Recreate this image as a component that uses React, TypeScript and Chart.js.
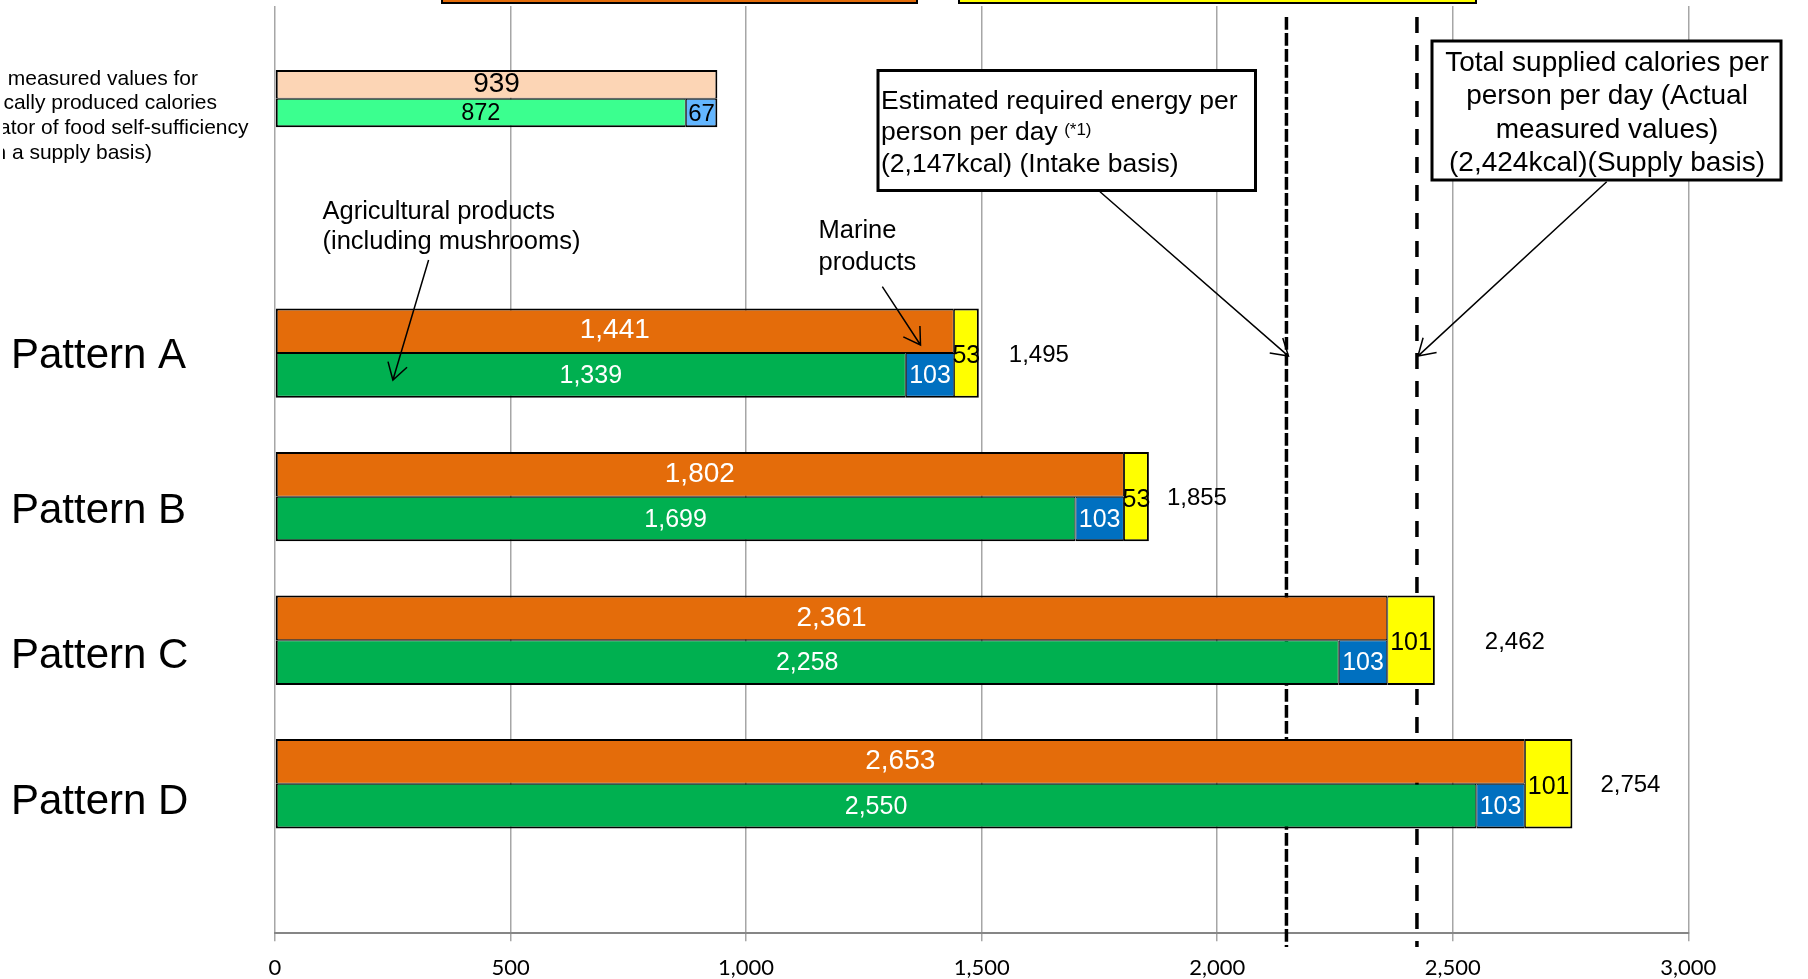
import React, { useEffect, useRef } from 'react';
import { Chart, registerables } from 'chart.js';

Chart.register(...registerables);

// pattern rows
const PATTERNS = ['Pattern A', 'Pattern B', 'Pattern C', 'Pattern D'];
const DOMESTIC = [1441, 1802, 2361, 2653]; // orange, upper half
const AGRICULTURAL = [1339, 1699, 2258, 2550]; // green, lower half
const MARINE = [103, 103, 103, 103]; // blue, lower half
const EXTRA = [53, 53, 101, 101]; // yellow, full height
const TOTALS = [1495, 1855, 2462, 2754];

// reference row (actual measured values)
const ACTUAL_LABEL = [
  'Actual measured values for',
  'domestically produced calories',
  '(indicator of food self-sufficiency',
  'on a supply basis)',
];
const ACTUAL_TOTAL = [939];
const ACTUAL_AGRI = [872];
const ACTUAL_MARINE = [67];

// dashed reference lines (kcal)
const REF_LINES = [2147, 2424];
const X_MAX = 3000;
const X_STEP = 500;

// layout: slot of the reference row on the row axis, and axis window
const ACTUAL_SLOT = -1.7725;
const Y_MIN = -2.418;
const Y_MAX = 4.042;
const PLOT_H = 927;
const LABEL_DY = [3.5, 14.5, 16.5, 19]; // row labels sit a little low in the original
const TOTAL_GAP = [30, 18, 50, 28];

const FONT = '"Liberation Sans", Arial, sans-serif';
const fmt = (v: number) => v.toLocaleString('en-US');

function arrow(ctx: CanvasRenderingContext2D, x1: number, y1: number, x2: number, y2: number) {
  const a = Math.atan2(y2 - y1, x2 - x1);
  const len = 19;
  const w = 0.55;
  ctx.beginPath();
  ctx.moveTo(x1, y1);
  ctx.lineTo(x2, y2);
  ctx.moveTo(x2 - len * Math.cos(a - w), y2 - len * Math.sin(a - w));
  ctx.lineTo(x2, y2);
  ctx.lineTo(x2 - len * Math.cos(a + w), y2 - len * Math.sin(a + w));
  ctx.stroke();
}

const decorations = {
  id: 'decorations',
  beforeDatasetsDraw(chart: any) {
    const { ctx } = chart;
    const x = chart.scales.x;
    ctx.save();
    ctx.strokeStyle = '#000';
    ctx.lineWidth = 3.5;
    REF_LINES.forEach((v, i) => {
      ctx.setLineDash(i === 0 ? [12.7, 3.3] : [16, 12]);
      const px = x.getPixelForValue(v);
      ctx.beginPath();
      ctx.moveTo(px, 17);
      ctx.lineTo(px, 947);
      ctx.stroke();
    });
    ctx.restore();
  },
  afterDatasetsDraw(chart: any) {
    const { ctx } = chart;
    ctx.save();
    ctx.textBaseline = 'middle';
    chart.data.datasets.forEach((ds: any, di: number) => {
      const st = ds.valueLabel;
      if (!st) return;
      const meta = chart.getDatasetMeta(di);
      meta.data.forEach((el: any, i: number) => {
        const { x, y, base } = el.getProps(['x', 'y', 'base'], true);
        ctx.font = `${st.size}px ${FONT}`;
        ctx.fillStyle = st.color;
        ctx.textAlign = 'center';
        ctx.fillText(fmt(ds.data[i].x), (x + base) / 2, y + (st.dy || 0));
        if (ds.showTotal) {
          ctx.font = `24px ${FONT}`;
          ctx.fillStyle = '#000';
          ctx.textAlign = 'left';
          ctx.fillText(fmt(TOTALS[i]), x + TOTAL_GAP[i], y + 2);
        }
      });
    });
    ctx.restore();
  },
  afterDraw(chart: any) {
    const { ctx } = chart;
    const xs = chart.scales.x;
    const ys = chart.scales.y;
    ctx.save();

    // boxes cut by the top edge
    ctx.lineWidth = 2;
    ctx.strokeStyle = '#000';
    ctx.fillStyle = '#E46C0A';
    ctx.fillRect(442, -6, 475, 9);
    ctx.strokeRect(442, -6, 475, 9);
    ctx.fillStyle = '#FFFF00';
    ctx.fillRect(959, -6, 517, 9);
    ctx.strokeRect(959, -6, 517, 9);

    // reference-row label, cut at the left edge
    ctx.save();
    ctx.beginPath();
    ctx.rect(3, 0, 300, 200);
    ctx.clip();
    ctx.fillStyle = '#000';
    ctx.font = `21px ${FONT}`;
    ctx.textAlign = 'right';
    ctx.textBaseline = 'alphabetic';
    const ends = [198, 217, 248.5, 152];
    const bases = [85, 109.3, 133.5, 159];
    ACTUAL_LABEL.forEach((t, i) => ctx.fillText(t, ends[i], bases[i]));
    ctx.restore();

    // callout texts
    ctx.fillStyle = '#000';
    ctx.textAlign = 'left';
    ctx.textBaseline = 'alphabetic';
    ctx.font = `25.5px ${FONT}`;
    ctx.fillText('Agricultural products', 322.5, 218.5);
    ctx.fillText('(including mushrooms)', 322.5, 249);
    ctx.fillText('Marine', 818.5, 238.3);
    ctx.fillText('products', 818.5, 269.5);

    ctx.strokeStyle = '#000';
    ctx.lineWidth = 1.5;
    arrow(ctx, 428.6, 260, 392.9, 380);
    arrow(ctx, 882.3, 286.7, 920.5, 345);

    const tipY = ys.getPixelForValue(0) + 3;
    arrow(ctx, 1100, 191.7, xs.getPixelForValue(REF_LINES[0]) + 2, tipY);
    arrow(ctx, 1606.7, 181.7, xs.getPixelForValue(REF_LINES[1]) + 1, tipY);

    // box 1
    ctx.fillStyle = '#fff';
    ctx.fillRect(878, 70.5, 377.5, 120);
    ctx.lineWidth = 3;
    ctx.strokeRect(878, 70.5, 377.5, 120);
    ctx.fillStyle = '#000';
    ctx.font = `26.5px ${FONT}`;
    ctx.fillText('Estimated required energy per', 881, 108.5);
    ctx.fillText('person per day ', 881, 140);
    const w2 = ctx.measureText('person per day ').width;
    ctx.fillText('(2,147kcal) (Intake basis)', 881, 172);
    ctx.font = `17px ${FONT}`;
    ctx.fillText('(*1)', 881 + w2 - 1, 134.6);

    // box 2
    ctx.fillStyle = '#fff';
    ctx.fillRect(1432, 41, 349, 139);
    ctx.strokeRect(1432, 41, 349, 139);
    ctx.fillStyle = '#000';
    ctx.font = `28px ${FONT}`;
    ctx.textAlign = 'center';
    ['Total supplied calories per', 'person per day (Actual', 'measured values)', '(2,424kcal)(Supply basis)'].forEach(
      (t, i) => ctx.fillText(t, 1607, 71 + i * 33.4)
    );

    ctx.restore();
  },
};

const UPPER_BORDER = { top: 2, bottom: 1, left: 2, right: 1 };
const LOWER_BORDER = { top: 1, bottom: 2, left: 2, right: 1 };

function ChartView() {
  const canvasRef = useRef<HTMLCanvasElement | null>(null);

  useEffect(() => {
    if (!canvasRef.current) return;
    const ctx = canvasRef.current.getContext('2d');
    if (!ctx) return;

    const rows = (vals: number[]) => vals.map((v, i) => ({ x: v, y: i }));
    const actual = (vals: number[]) => vals.map((v) => ({ x: v, y: ACTUAL_SLOT }));
    const common = { borderColor: '#000', borderSkipped: false, inflateAmount: 0 };

    const chart = new Chart(ctx, {
      type: 'bar',
      data: {
        datasets: [
          {
            ...common,
            label: 'actual total',
            data: actual(ACTUAL_TOTAL),
            stack: 'upper',
            barThickness: 28.7,
            backgroundColor: '#FCD5B5',
            borderWidth: { top: 2, bottom: 1, left: 2, right: 2 },
            valueLabel: { size: 28, color: '#000', dy: 0 },
          },
          {
            ...common,
            label: 'actual agricultural',
            data: actual(ACTUAL_AGRI),
            stack: 'lower',
            barThickness: 28.7,
            backgroundColor: '#3BFF8F',
            borderWidth: LOWER_BORDER,
            valueLabel: { size: 23.5, color: '#000', dy: 1 },
          },
          {
            ...common,
            label: 'actual marine',
            data: actual(ACTUAL_MARINE),
            stack: 'lower',
            barThickness: 28.7,
            backgroundColor: '#63B6FF',
            borderWidth: { top: 1, bottom: 2, left: 1, right: 2 },
            valueLabel: { size: 24, color: '#000', dy: 1 },
          },
          {
            ...common,
            label: 'domestic',
            data: rows(DOMESTIC),
            stack: 'upper',
            barThickness: 44.7,
            backgroundColor: '#E46C0A',
            borderWidth: UPPER_BORDER,
            valueLabel: { size: 28, color: '#fff', dy: 0 },
          },
          {
            ...common,
            label: 'agricultural',
            data: rows(AGRICULTURAL),
            stack: 'lower',
            barThickness: 44.7,
            backgroundColor: '#00B050',
            borderWidth: LOWER_BORDER,
            valueLabel: { size: 25, color: '#fff', dy: 1 },
          },
          {
            ...common,
            label: 'marine',
            data: rows(MARINE),
            stack: 'lower',
            barThickness: 44.7,
            backgroundColor: '#0070C0',
            borderWidth: { top: 1, bottom: 2, left: 1, right: 1 },
            valueLabel: { size: 25, color: '#fff', dy: 1 },
          },
          {
            ...common,
            label: 'extra',
            data: rows(EXTRA),
            stack: 'upper',
            grouped: false,
            barThickness: 89.4,
            backgroundColor: '#FFFF00',
            borderWidth: { top: 2, bottom: 2, left: 1, right: 2 },
            valueLabel: { size: 25, color: '#000', dy: 3 },
            showTotal: true,
          },
        ] as any,
      },
      options: {
        indexAxis: 'y',
        responsive: false,
        animation: false,
        locale: 'en-US',
        layout: { autoPadding: false, padding: { left: 11, top: 6, right: 119.7, bottom: 0 } },
        plugins: { legend: { display: false }, tooltip: { enabled: false } },
        scales: {
          x: {
            type: 'linear',
            position: 'bottom',
            min: 0,
            max: X_MAX,
            stacked: true,
            offset: false,
            grid: { color: '#A6A6A6', lineWidth: 1.5, tickLength: 8, tickColor: '#A6A6A6', offset: false },
            border: { color: '#868686', width: 2 },
            ticks: {
              stepSize: X_STEP,
              color: '#000',
              padding: 13,
              font: { family: 'Lato', size: 22 },
              callback: (v: any) => fmt(Number(v)),
            },
            afterFit: (s: any) => {
              s.height = 45.7;
              s.paddingLeft = 0;
              s.paddingRight = 0;
            },
          },
          y: {
            type: 'linear',
            reverse: true,
            min: Y_MIN,
            max: Y_MAX,
            bounds: 'data',
            offset: false,
            grid: { display: false, offset: false },
            border: { display: false },
            ticks: {
              color: '#000',
              crossAlign: 'far',
              padding: 0,
              autoSkip: false,
              font: { family: 'Liberation Sans', size: 42 },
              callback: (_v: any, idx: number) => PATTERNS[idx] ?? '',
            },
            afterBuildTicks: (axis: any) => {
              const perPx = (Y_MAX - Y_MIN) / PLOT_H;
              axis.ticks = PATTERNS.map((_, i) => ({ value: i + LABEL_DY[i] * perPx }));
            },
            afterFit: (s: any) => {
              s.width = 264;
              s.paddingTop = 0;
              s.paddingBottom = 0;
            },
          },
        },
      } as any,
      plugins: [decorations],
    });

    return () => chart.destroy();
  }, []);

  return <canvas ref={canvasRef} width={1808} height={979} />;
}

export default function App() {
  return (
    <div style={{ position: 'absolute', left: 0, top: 0, width: 1808, height: 979, background: '#fff' }}>
      <ChartView />
    </div>
  );
}
